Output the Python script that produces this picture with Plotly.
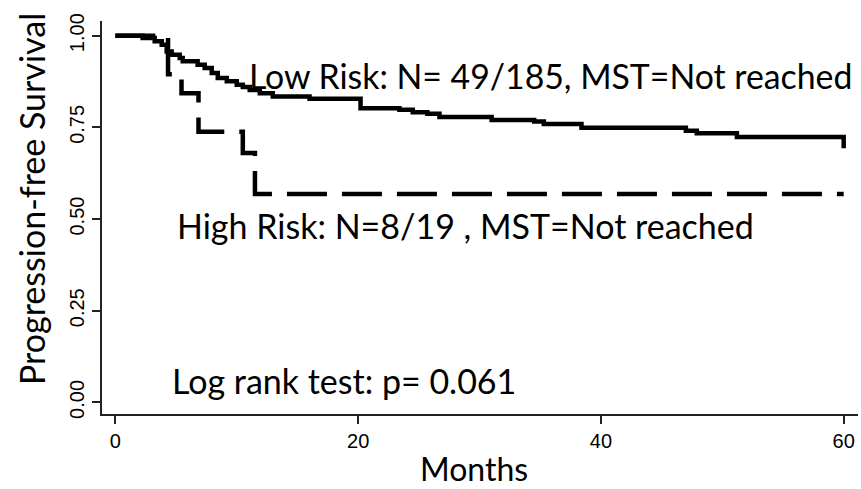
import plotly.graph_objects as go

# Low risk group (solid) Kaplan-Meier steps: time in months, survival after step
low_t = [0, 2.25, 3.24, 3.82, 4.23, 4.64, 5.30, 5.55, 6.78, 7.36, 7.94, 8.44, 9.18,
         10.0, 10.5, 11.07, 11.9, 12.97, 16.0, 20.2, 23.4, 24.5, 25.7, 26.7, 31.0,
         34.5, 35.3, 38.4, 47.0, 47.9, 51.2, 60.0]
low_s = [1.0, 0.994, 0.985, 0.975, 0.957, 0.948, 0.939, 0.930, 0.921, 0.912, 0.898, 0.885, 0.876,
         0.866, 0.860, 0.852, 0.843, 0.834, 0.828, 0.802, 0.798, 0.791, 0.787, 0.778, 0.770,
         0.766, 0.759, 0.749, 0.741, 0.734, 0.724, 0.693]

# High risk group (dashed)
high_t = [0, 4.34, 5.45, 6.85, 10.5, 11.5, 60.0]
high_s = [1.0, 0.895, 0.843, 0.738, 0.680, 0.568, 0.568]

x_ticks = [0, 20, 40, 60]
y_ticks = [0.0, 0.25, 0.5, 0.75, 1.0]
y_tick_labels = ["0.00", "0.25", "0.50", "0.75", "1.00"]

txt_font = "Lato, Calibri, Carlito, 'Open Sans', sans-serif"
tick_font = "'Liberation Sans Narrow', 'Arial Narrow', 'Liberation Sans', Arial, sans-serif"

fig = go.Figure()
fig.add_trace(go.Scatter(x=high_t, y=high_s, mode="lines", line_shape="hv",
                         line=dict(color="black", width=4.5, dash="40px,15px"),
                         showlegend=False, hoverinfo="skip"))
fig.add_trace(go.Scatter(x=low_t, y=low_s, mode="lines", line_shape="hv",
                         line=dict(color="black", width=4.5),
                         showlegend=False, hoverinfo="skip"))

W, H = 861, 489
L, R, T, B = 102, 3, 21, 75
pw, ph = W - L - R, H - T - B

def px(x):
    return (x - L) / pw

def py(y):
    return (H - B - y) / ph

annots = [
    dict(text="Low Risk: N= 49/185, MST=Not reached", x=px(247), y=py(76), size=33.8),
    dict(text="High Risk: N=8/19 , MST=Not reached", x=px(175), y=py(225), size=34),
    dict(text="Log rank test: p= 0.061", x=px(170), y=py(380), size=34),
]
for a in annots:
    fig.add_annotation(text=a["text"], x=a["x"], y=a["y"], xref="paper", yref="paper",
                       xanchor="left", yanchor="middle", showarrow=False,
                       font=dict(family=txt_font, size=a["size"], color="black"))

fig.add_annotation(text="Progression-free Survival", x=px(31), y=py(199), xref="paper", yref="paper",
                   xanchor="center", yanchor="middle", textangle=-90, showarrow=False,
                   font=dict(family=txt_font, size=34, color="black"))
fig.add_annotation(text="Months", x=px(474), y=py(468), xref="paper", yref="paper",
                   xanchor="center", yanchor="middle", showarrow=False,
                   font=dict(family=txt_font, size=32, color="black"))

fig.update_layout(
    width=W, height=H,
    margin=dict(l=L, r=R, t=T, b=B),
    plot_bgcolor="white", paper_bgcolor="white",
    xaxis=dict(range=[-1.1, 61.18], tickvals=x_ticks, ticktext=[str(v) for v in x_ticks],
               showgrid=False, zeroline=False, showline=True, linecolor="#222", linewidth=1.5,
               ticks="outside", ticklen=8, tickwidth=1.5, tickcolor="#222",
               tickfont=dict(family=tick_font, size=20, color="black")),
    yaxis=dict(range=[-0.0316, 1.0401], tickvals=y_ticks, ticktext=y_tick_labels,
               showgrid=False, zeroline=False, showline=True, linecolor="#222", linewidth=1.5,
               ticks="outside", ticklen=8, tickwidth=1.5, tickcolor="#222", tickangle=-90,
               tickfont=dict(family=tick_font, size=20, color="black")),
)

fig.write_html("out.html", config={"displayModeBar": False},
               post_script="document.body.style.margin='0';")
